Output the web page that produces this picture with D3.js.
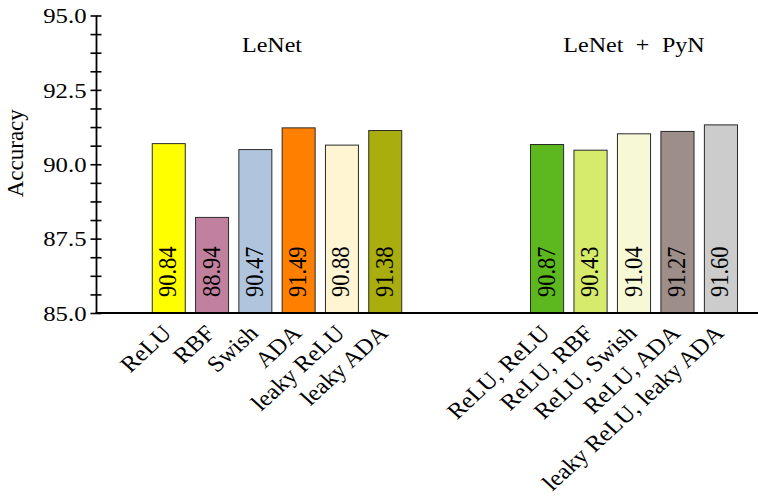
<!DOCTYPE html>
<html><head><meta charset="utf-8">
<script src="https://cdn.jsdelivr.net/npm/d3@7/dist/d3.min.js"></script>
<style>
html,body{margin:0;padding:0;background:#fff;}
text{font-family:"Liberation Serif","Times New Roman",serif;fill:#000;}
</style></head>
<body>
<svg id="chart" width="758" height="503"></svg>
<script>
// ---- data ----
const groupTitles = ["LeNet", "LeNet + PyN"];
const cats1 = ["ReLU", "RBF", "Swish", "ADA", "leaky ReLU", "leaky ADA"];
const heights1 = [90.71, 88.23, 90.51, 91.24, 90.66, 91.15];
const labels1 = ["90.84", "88.94", "90.47", "91.49", "90.88", "91.38"];
const colors1 = ["#ffff00", "#c2809f", "#b0c4de", "#ff7f00", "#fff5d2", "#a9ae0e"];
const cats2 = ["ReLU, ReLU", "ReLU, RBF", "ReLU, Swish", "ReLU, ADA", "leaky ReLU, leaky ADA"];
const heights2 = [90.68, 90.49, 91.04, 91.12, 91.34];
const labels2 = ["90.87", "90.43", "91.04", "91.27", "91.60"];
const colors2 = ["#5cb81e", "#d6ea6c", "#f6f8d6", "#9e8e89", "#cccccc"];
const majorTicks = [85.0, 87.5, 90.0, 92.5, 95.0];
const yLabel = "Accuracy";

const svg = d3.select("#chart");
const SX = 1.15; // horizontal stretch of glyphs as in reference
const baseY = 313, topY = 15.5, axisX = 96.5;

const y = d3.scaleLinear().domain([85, 95]).range([baseY, topY]);
const x1 = d3.scaleBand().domain(cats1).range([147, 407]).paddingInner(0.215).paddingOuter(0.11);
const x2 = d3.scaleBand().domain(cats2).range([525.2, 742.8]).paddingInner(0.215).paddingOuter(0.11);

const groups = [
  {title: groupTitles[0], cats: cats1, h: heights1, lab: labels1, col: colors1, x: x1, dx: -5, ws: 0},
  {title: groupTitles[1], cats: cats2, h: heights2, lab: labels2, col: colors2, x: x2, dx: 0, ws: 6}
];

// bars
groups.forEach(g => {
  const data = g.cats.map((c, i) => ({c, v: g.h[i], t: g.lab[i], col: g.col[i]}));
  const gg = svg.append("g");
  gg.selectAll("rect").data(data).join("rect")
    .attr("x", d => g.x(d.c) + 0.5)
    .attr("y", d => y(d.v) + 0.5)
    .attr("width", g.x.bandwidth() - 1)
    .attr("height", d => y(85) - y(d.v) - 0.5)
    .attr("fill", d => d.col)
    .attr("stroke", "#2a2a2a").attr("stroke-width", 1);
  gg.selectAll("text.val").data(data).join("text").attr("class", "val")
    .attr("transform", d => `translate(${g.x(d.c) + g.x.bandwidth()/2 + 7.5}, ${baseY - 16}) scale(${SX},1) rotate(-90)`)
    .attr("font-size", 22.5)
    .attr("text-anchor", "start")
    .text(d => d.t);
  // category labels
  gg.selectAll("text.cat").data(data).join("text").attr("class", "cat")
    .attr("transform", d => `translate(${g.x(d.c) + g.x.bandwidth()/2 - 2}, ${baseY + 16}) scale(1.1,1) rotate(-45)`)
    .attr("font-size", 22.5)
    .attr("text-anchor", "end")
    .attr("dy", "0.35em")
    .text(d => d.c);
  // group title
  const cx = (g.x.range()[0] + g.x.range()[1]) / 2;
  svg.append("text")
    .attr("transform", `translate(${cx + g.dx}, 51.5) scale(${SX * 0.95},1)`)
    .attr("text-anchor", "middle").attr("font-size", 22)
    .attr("word-spacing", g.ws)
    .text(g.title);
});

// y axis
const allTicks = d3.range(0, 17).map(i => 85 + i * 0.625);
const yAxis = d3.axisLeft(y).tickValues(allTicks).tickSize(6)
  .tickFormat(d => majorTicks.some(m => Math.abs(m - d) < 1e-9) ? d3.format(".1f")(d) : "");
const ya = svg.append("g").attr("transform", `translate(${axisX},0)`).call(yAxis);
ya.select(".domain").remove();
ya.selectAll(".tick line").attr("x1", 5).attr("x2", -6).attr("stroke", "#000").attr("stroke-width", 1.6);
ya.selectAll(".tick text")
  .attr("x", null).attr("dy", null)
  .attr("transform", `translate(-10,0) scale(${SX},1)`)
  .attr("dy", "0.34em")
  .attr("font-size", 21.5).attr("font-family", null).attr("fill", "#000");
ya.attr("font-family", null).attr("font-size", null);

svg.append("line").attr("x1", axisX).attr("x2", axisX).attr("y1", topY).attr("y2", baseY)
  .attr("stroke", "#000").attr("stroke-width", 1.8);
svg.append("line").attr("x1", axisX - 0.9).attr("x2", 758).attr("y1", baseY).attr("y2", baseY)
  .attr("stroke", "#000").attr("stroke-width", 2);

// y label
svg.append("text")
  .attr("transform", `translate(23, ${(topY + baseY) / 2 - 11}) rotate(-90)`)
  .attr("text-anchor", "middle").attr("font-size", 23)
  .text(yLabel);
</script>
</body></html>
